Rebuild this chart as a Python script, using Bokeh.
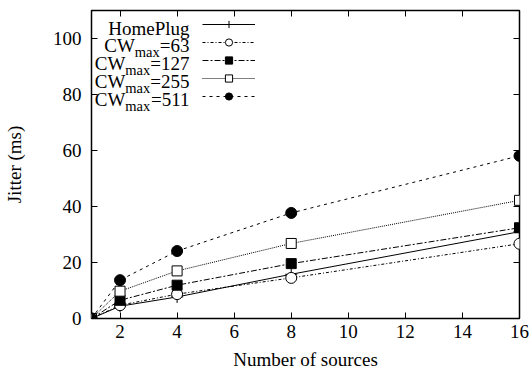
from bokeh.plotting import figure
from bokeh.models import (Range1d, LinearAxis, FixedTicker, Legend, LegendItem, Label)
from bokeh.embed import file_html
from bokeh.resources import INLINE

# ---- data ----
sources = [1, 2, 4, 8, 16]
homeplug = [0, 4.4, 7.7, 15.8, 31.0]
cw63 = [0, 4.75, 8.7, 14.5, 26.7]
cw127 = [0, 6.5, 11.9, 19.6, 32.4]
cw255 = [0, 9.75, 17.0, 26.8, 42.2]
cw511 = [0, 13.7, 24.1, 37.7, 58.1]
x_ticks = [2, 4, 6, 8, 10, 12, 14, 16]
y_ticks = [0, 20, 40, 60, 80, 100]
x_title = "Number of sources"
y_title = "Jitter (ms)"
series_names = ["HomePlug", "CW", "CW", "CW", "CW"]
series_values = ["", "=63", "=127", "=255", "=511"]

FONT = "Liberation Serif"
FS = 19
SUB = 14.5

p = figure(width=531, height=376, output_backend="svg", toolbar_location=None,
           x_range=Range1d(1, 16), y_range=Range1d(0, 110),
           min_border_left=91, min_border_right=12, min_border_top=10, min_border_bottom=58)
p.xgrid.visible = False
p.ygrid.visible = False
p.outline_line_color = "black"
p.outline_line_width = 1.5
p.background_fill_color = "white"
p.border_fill_color = "white"

def style_axis(ax, labels=True):
    ax.axis_line_color = None
    ax.major_tick_in = 6
    ax.major_tick_out = 0
    ax.minor_tick_line_color = None
    ax.major_tick_line_color = "black"
    ax.major_tick_line_width = 1
    if labels:
        ax.major_label_text_font = FONT
        ax.major_label_text_font_size = f"{FS}px"
        ax.major_label_text_color = "black"
        ax.axis_label_text_font = FONT
        ax.axis_label_text_font_size = f"{FS}px"
        ax.axis_label_text_font_style = "normal"
        ax.axis_label_text_color = "black"
    else:
        ax.major_label_text_font_size = "1px"
        ax.major_label_text_color = None
        ax.major_label_standoff = 0

p.xaxis.ticker = FixedTicker(ticks=x_ticks)
p.yaxis.ticker = FixedTicker(ticks=y_ticks)
style_axis(p.xaxis[0])
style_axis(p.yaxis[0])
p.xaxis.axis_label = x_title
p.yaxis.axis_label = y_title
p.xaxis.major_label_standoff = 6
p.xaxis.axis_label_standoff = 8
p.yaxis.major_label_standoff = 10
p.yaxis.axis_label_standoff = 25

top = LinearAxis(ticker=FixedTicker(ticks=x_ticks))
style_axis(top, labels=False)
p.add_layout(top, "above")
right = LinearAxis(ticker=FixedTicker(ticks=y_ticks))
style_axis(right, labels=False)
p.add_layout(right, "right")

specs = [
    (homeplug, "solid", "cross", None, 12),
    (cw63, "3 2 1 2", "circle", "white", 11),
    (cw127, "6 2 2 2", "square", "black", 10),
    (cw255, "1 1", "square", "white", 10),
    (cw511, "3 4", "circle", "black", 11),
]
items = []
for ys, dash, marker, fc, sz in specs:
    lr = p.line(sources, ys, line_color="black", line_width=1, line_dash=dash)
    if fc is None:
        sr = p.scatter(sources, ys, marker=marker, size=sz, line_color="black", line_width=1)
    else:
        sr = p.scatter(sources, ys, marker=marker, size=sz, line_color="black",
                       fill_color=fc, line_width=1)
    items.append(LegendItem(label=" ", renderers=[lr, sr]))

legend = Legend(items=items, location=(111, 213), glyph_width=53, glyph_height=18,
                spacing=0, padding=0, margin=0, label_standoff=0, label_width=0,
                label_height=18, label_text_font_size="1px", label_text_color=None,
                border_line_alpha=0, background_fill_alpha=0)
p.add_layout(legend)

# text labels of the legend (right aligned, with subscript "max")
frame_bottom = 318
right_x = 189 - 91
baselines = [28, 45, 63, 81, 99]
w_main = {"=63": 1.564 * FS, "=127": 2.064 * FS, "=255": 2.064 * FS, "=511": 2.064 * FS}
w_sub = 1.722 * SUB
for name, val, bl in zip(series_names, series_values, baselines):
    y = frame_bottom - bl
    if val == "":
        p.add_layout(Label(x=right_x, y=y, x_units="screen", y_units="screen", text=name,
                           text_font=FONT, text_font_size=f"{FS}px", text_align="right",
                           text_baseline="alphabetic", text_color="black"))
    else:
        p.add_layout(Label(x=right_x, y=y, x_units="screen", y_units="screen", text=val,
                           text_font=FONT, text_font_size=f"{FS}px", text_align="right",
                           text_baseline="alphabetic", text_color="black"))
        xs = right_x - w_main[val]
        p.add_layout(Label(x=xs, y=y - 6, x_units="screen", y_units="screen", text="max",
                           text_font=FONT, text_font_size=f"{SUB}px", text_align="right",
                           text_baseline="alphabetic", text_color="black"))
        xc = xs - w_sub
        p.add_layout(Label(x=xc, y=y, x_units="screen", y_units="screen", text=name,
                           text_font=FONT, text_font_size=f"{FS}px", text_align="right",
                           text_baseline="alphabetic", text_color="black"))

open("out.html", "w").write(file_html(p, INLINE))
